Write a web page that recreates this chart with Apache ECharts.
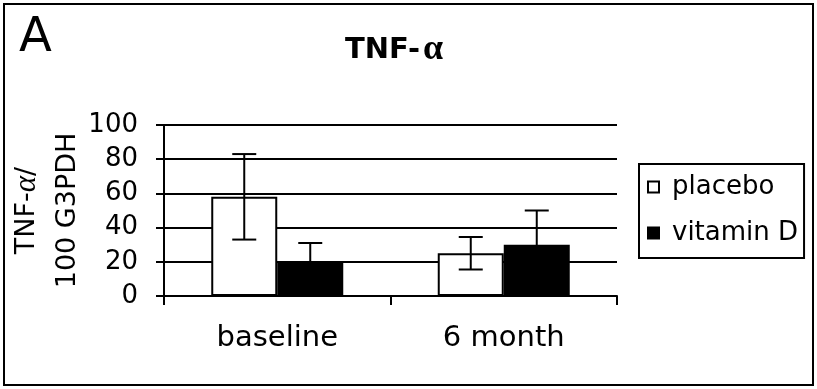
<!DOCTYPE html>
<html>
<head>
<meta charset="utf-8">
<script src="https://cdn.jsdelivr.net/npm/echarts@6/dist/echarts.min.js"></script>
<style>
  html, body { margin: 0; padding: 0; background: #fff; }
  #chart { width: 817px; height: 389px; }
</style>
</head>
<body>
<div id="chart"></div>
<script>
    // values
    var categories = ['baseline', '6 month'];
    var placeboMean = [58, 25];
    var placeboErr = [25, 9.5];
    var vitdMean = [20, 30];
    var vitdErr = [11, 20];
    var yTicks = [0, 20, 40, 60, 80, 100];

    var barW = 66;
    var font = 'DejaVu Sans';

    function errData(mean, err) {
        var out = [];
        for (var i = 0; i < mean.length; i++) {
            out.push([i, mean[i] - err[i], mean[i] + err[i]]);
        }
        return out;
    }

    function errorBars(offset) {
        return function (params, api) {
            var c = api.value(0);
            var lo = api.coord([c, api.value(1)]);
            var hi = api.coord([c, api.value(2)]);
            var x = lo[0] + offset;
            var cap = 12;
            var st = { stroke: '#000', lineWidth: 2 };
            return {
                type: 'group',
                children: [
                    { type: 'line', shape: { x1: x, y1: lo[1], x2: x, y2: hi[1] }, style: st },
                    { type: 'line', shape: { x1: x - cap, y1: hi[1], x2: x + cap, y2: hi[1] }, style: st },
                    { type: 'line', shape: { x1: x - cap, y1: lo[1], x2: x + cap, y2: lo[1] }, style: st }
                ]
            };
        };
    }

    var chart = echarts.init(document.getElementById('chart'));
    var option = {
        backgroundColor: '#fff',
        animation: false,
        title: {
            text: '{b|TNF-}{a|α}',
            left: 389,
            top: 27,
            textAlign: 'center',
            textStyle: {
                rich: {
                    b: { fontFamily: font, fontWeight: 'bold', fontSize: 29, color: '#000' },
                    a: { fontFamily: 'Liberation Serif', fontSize: 36, color: '#000', padding: [0, 0, 0, 3] }
                }
            }
        },
        graphic: [
            {
                type: 'rect',
                shape: { x: 4, y: 4, width: 809, height: 381 },
                style: { fill: 'none', stroke: '#000', lineWidth: 2 }
            },
            {
                type: 'text',
                left: 19,
                top: 15,
                style: { text: 'A', font: '48px "DejaVu Sans"', fill: '#000' }
            }
        ],
        legend: {
            data: ['placebo', 'vitamin D'],
            orient: 'vertical',
            left: 639,
            top: 164,
            padding: [10, 6, 12, 8],
            itemWidth: 11,
            itemHeight: 11,
            itemGap: 20,
            borderColor: '#000',
            borderWidth: 2,
            icon: 'rect',
            textStyle: { fontFamily: font, fontSize: 26, color: '#000', lineHeight: 26, padding: [0, 0, 0, 8] }
        },
        grid: { left: 164, right: 200, top: 125, bottom: 93, containLabel: false, outerBoundsMode: 'none' },
        xAxis: {
            type: 'category',
            data: categories,
            axisLine: { lineStyle: { color: '#000', width: 2 } },
            axisTick: { show: true, length: 9, lineStyle: { color: '#000', width: 2 } },
            axisLabel: { fontFamily: font, fontSize: 29, color: '#000', margin: 28 }
        },
        yAxis: {
            type: 'value',
            min: yTicks[0],
            max: yTicks[yTicks.length - 1],
            interval: yTicks[1] - yTicks[0],
            name: '{t|TNF-}{a|α}{t|/}\n{t|100 G3PDH}',
            nameLocation: 'middle',
            nameGap: 76,
            nameMoveOverlap: false,
            nameTextStyle: {
                lineHeight: 41,
                rich: {
                    t: { fontFamily: font, fontSize: 27, color: '#000', lineHeight: 41 },
                    a: { fontFamily: 'Liberation Serif', fontStyle: 'italic', fontSize: 31, color: '#000', lineHeight: 41 }
                }
            },
            axisLine: { show: true, lineStyle: { color: '#000', width: 2 } },
            axisTick: { show: true, length: 8, lineStyle: { color: '#000', width: 2 } },
            axisLabel: { fontFamily: font, fontSize: 26, color: '#000', margin: 26 },
            splitLine: { show: true, lineStyle: { color: '#000', width: 2 } }
        },
        series: [
            {
                name: 'placebo',
                type: 'bar',
                data: placeboMean,
                barWidth: barW,
                barGap: '0%',
                itemStyle: { color: '#fff', borderColor: '#000', borderWidth: 2 }
            },
            {
                name: 'vitamin D',
                type: 'bar',
                data: vitdMean,
                barWidth: barW,
                barGap: '0%',
                itemStyle: { color: '#000', borderColor: '#000', borderWidth: 2 }
            },
            {
                name: 'placebo err',
                type: 'custom',
                renderItem: errorBars(-barW / 2),
                data: errData(placeboMean, placeboErr),
                z: 10
            },
            {
                name: 'vitamin D err',
                type: 'custom',
                renderItem: errorBars(barW / 2),
                data: errData(vitdMean, vitdErr),
                z: 10
            }
        ]
    };
    chart.setOption(option);
</script>
</body>
</html>
